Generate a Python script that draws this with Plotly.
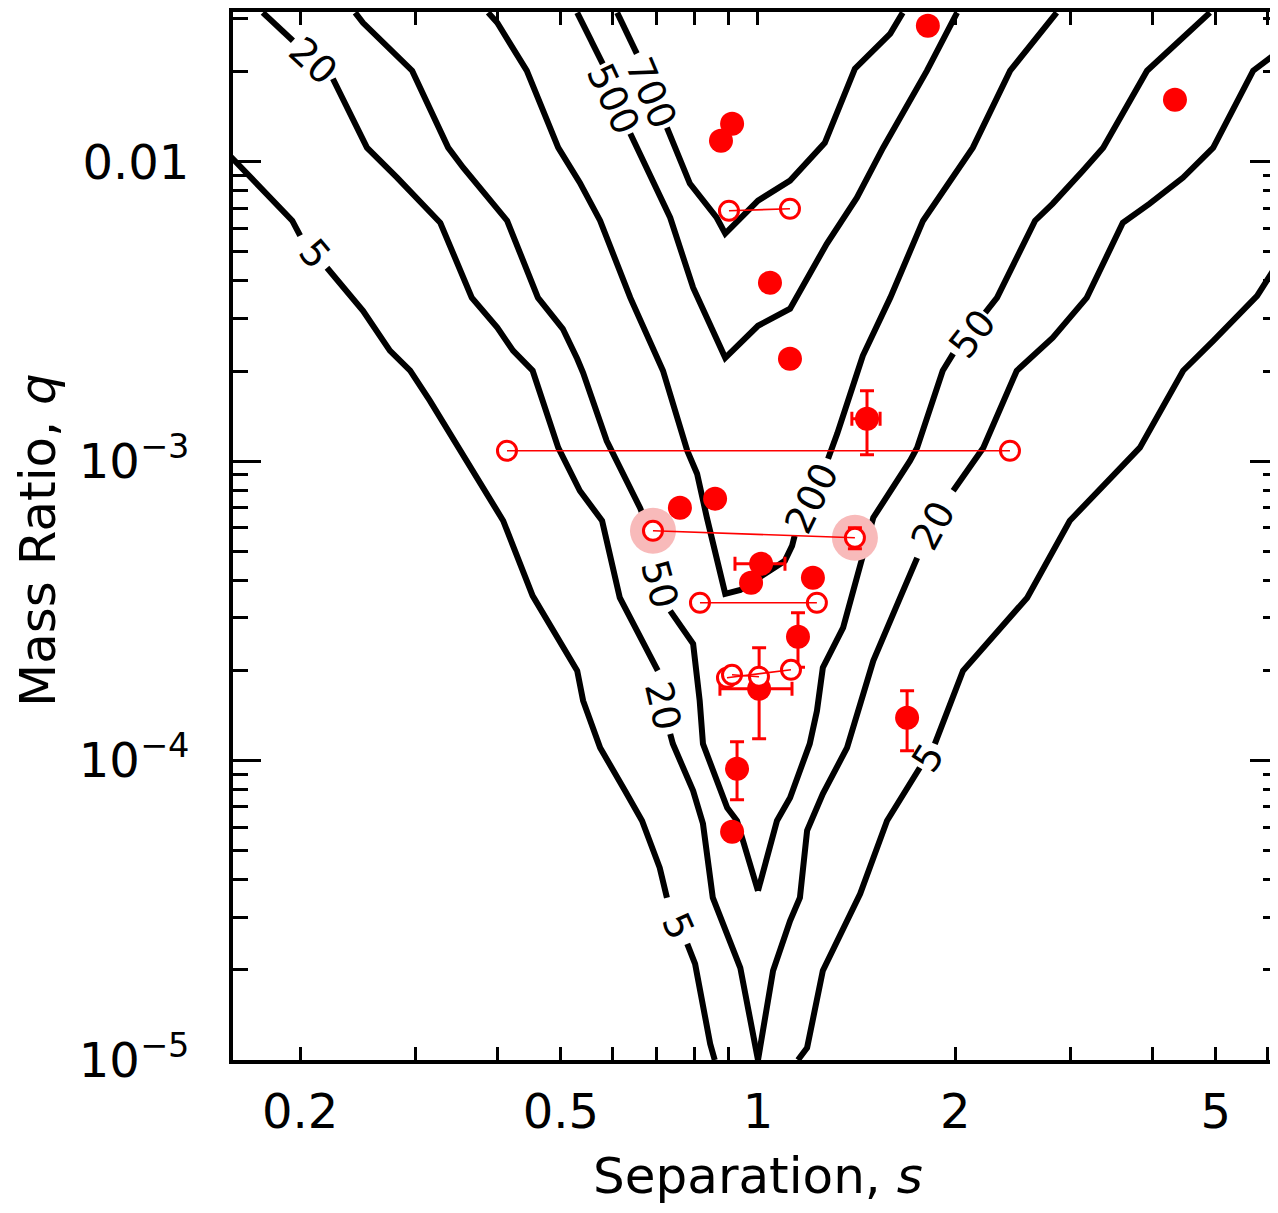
import plotly.graph_objects as go

# ---------------- contour lines (log10 s, log10 q), split where labels sit ----------------
C5_LOGS = [[-0.805, -0.756, -0.711, -0.699],
           [-0.658, -0.603, -0.562, -0.531, -0.501, -0.455, -0.389, -0.344, -0.276, -0.267, -0.241, -0.203, -0.177, -0.150, -0.139],
           [-0.108, -0.096, -0.073, -0.066],
           [0.061, 0.075, 0.099, 0.156, 0.197, 0.247],
           [0.270, 0.313, 0.411, 0.476, 0.583, 0.649, 0.695, 0.762, 0.805]]
C5_LOGQ = [[-1.983, -2.097, -2.197, -2.247],
           [-2.354, -2.498, -2.631, -2.698, -2.798, -2.965, -3.199, -3.450, -3.700, -3.800, -3.957, -4.101, -4.201, -4.358, -4.458],
           [-4.612, -4.679, -4.946, -5.0],
           [-5.0, -4.959, -4.702, -4.445, -4.201, -4.024],
           [-3.944, -3.700, -3.456, -3.199, -2.955, -2.698, -2.598, -2.448, -2.300]]

C20_LOGS = [[-0.756, -0.710],
            [-0.649, -0.597, -0.551, -0.485, -0.437, -0.398, -0.374, -0.344, -0.305, -0.272, -0.238, -0.211, -0.153],
            [-0.134, -0.130, -0.099, -0.084, -0.069, -0.027, 0.0],
            [0.0, 0.023, 0.049, 0.064, 0.075, 0.099, 0.136, 0.156, 0.176, 0.217, 0.243],
            [0.298, 0.344, 0.395, 0.450, 0.502, 0.557, 0.598, 0.649, 0.695, 0.756, 0.805]]
C20_LOGQ = [[-1.502, -1.596],
            [-1.723, -1.953, -2.053, -2.204, -2.454, -2.554, -2.631, -2.698, -2.955, -3.099, -3.199, -3.456, -3.700],
            [-3.911, -3.944, -4.101, -4.211, -4.458, -4.692, -5.0],
            [-5.0, -4.702, -4.535, -4.458, -4.234, -4.111, -3.957, -3.810, -3.667, -3.456, -3.323],
            [-3.099, -2.955, -2.698, -2.588, -2.454, -2.204, -2.140, -2.053, -1.953, -1.696, -1.615]]

C50_LOGS = [[-0.615, -0.603, -0.528, -0.473, -0.450, -0.383, -0.336, -0.298, -0.276, -0.267, -0.231, -0.180, -0.165],
            [-0.134, -0.099, -0.089, -0.084, -0.047, -0.032, 0.0],
            [0.0, 0.029, 0.049, 0.079, 0.090, 0.099, 0.130, 0.145, 0.156, 0.176, 0.232, 0.243, 0.282, 0.298],
            [0.347, 0.365, 0.423, 0.450, 0.496, 0.527, 0.594, 0.649, 0.690]]
C50_LOGQ = [[-1.502, -1.536, -1.696, -1.953, -2.020, -2.197, -2.454, -2.558, -2.658, -2.705, -2.932, -3.156, -3.240],
            [-3.500, -3.610, -3.800, -3.944, -4.158, -4.201, -4.435],
            [-4.435, -4.201, -4.124, -3.944, -3.834, -3.690, -3.556, -3.433, -3.343, -3.189, -2.999, -2.955, -2.698, -2.641],
            [-2.504, -2.454, -2.197, -2.140, -2.030, -1.953, -1.696, -1.586, -1.502]]

C200_LOGS = [[-0.412, -0.398, -0.353, -0.305, -0.272, -0.241, -0.195, -0.153, -0.145, -0.108, -0.093, -0.078, -0.050,
              -0.027, 0.041, 0.052, 0.056],
             [0.107, 0.121, 0.151, 0.160, 0.202, 0.252, 0.328, 0.385, 0.456]]
C200_LOGQ = [[-1.502, -1.536, -1.696, -1.953, -2.070, -2.197, -2.454, -2.665, -2.698, -2.965, -3.042, -3.189, -3.443,
              -3.430, -3.333, -3.283, -3.249],
             [-2.992, -2.908, -2.708, -2.648, -2.454, -2.197, -1.953, -1.696, -1.502]]

C500_LOGS = [[-0.276, -0.237],
             [-0.195, -0.134, -0.099, -0.050, 0.0, 0.049, 0.105, 0.151, 0.191, 0.258, 0.304]]
C500_LOGQ = [[-1.502, -1.673],
             [-1.906, -2.187, -2.421, -2.655, -2.548, -2.491, -2.274, -2.120, -1.953, -1.696, -1.502]]

C700_LOGS = [[-0.215, -0.185],
             [-0.139, -0.104, -0.063, -0.050, 0.0, 0.049, 0.102, 0.148, 0.202, 0.221]]
C700_LOGQ = [[-1.502, -1.639],
             [-1.886, -2.073, -2.187, -2.240, -2.130, -2.063, -1.937, -1.689, -1.572, -1.502]]

# contour labels: text, log10 s, log10 q, angle
LABEL_TEXT = ["20", "5", "20", "5", "5", "20", "50", "50", "200", "500", "700"]
LABEL_LOGS = [-0.679, -0.676, -0.145, -0.122, 0.2595, 0.267, -0.150, 0.327, 0.082, -0.221, -0.163]
LABEL_LOGQ = [-1.663, -2.307, -3.817, -4.552, -3.991, -3.216, -3.409, -2.574, -3.122, -1.790, -1.770]
LABEL_ANGLE = [43, 50, 77, 66, -58, -62, 75, -52, -64, 65, 67]

# ---------------- planet detections ----------------
F_S = [1.817, 4.331, 0.913, 0.878, 1.043, 1.119, 1.467, 0.760, 0.860, 1.011, 0.976, 1.213, 1.151, 1.004, 0.929, 0.913, 1.689]
F_Q = [0.02846, 0.01611, 0.01339, 0.01175, 0.003944, 0.002198, 0.001385, 0.000699, 0.000749, 0.0004544,
       0.0003925, 0.0004079, 0.000259, 0.0001737, 0.0000939, 0.0000578, 0.000139]
F_Q_HI = [None, None, None, None, None, None, 0.001718, None, None, None, None, None, 0.0003116, 0.000238, 0.0001156, None, 0.000171]
F_Q_LO = [None, None, None, None, None, None, 0.00105, None, None, None, None, None, 0.0002048, 0.0001182, 0.000074, None, 0.0001078]
F_S_HI = [None, None, None, None, None, None, 1.536, None, None, 1.0995, None, None, None, 1.127, None, None, None]
F_S_LO = [None, None, None, None, None, None, 1.391, None, None, 0.9223, None, None, None, 0.8748, None, None, None]

# degenerate solutions (open circles joined by a line)
P_S1 = [0.903, 0.4138, 0.6913, 0.8155, 0.8967, 0.9127]
P_Q1 = [0.006859, 0.001083, 0.0005853, 0.0003365, 0.0001891, 0.0001934]
P_S2 = [1.119, 2.425, 1.406, 1.230, 1.123, 1.0035]
P_Q2 = [0.006966, 0.001083, 0.0005549, 0.0003365, 0.0002010, 0.0001905]
P2_Q_HI = [None, None, 0.0005991, None, None, None]
P2_Q_LO = [None, None, 0.00051, None, None, None]
HALO_PAIR = 2

X_TITLE = "Separation, <i>s</i>"
Y_TITLE = "Mass Ratio, <i>q</i>"

RED = "#ff0000"
FONT = "DejaVu Sans"


def plus(vals, his):
    return [None if h is None else h - v for v, h in zip(vals, his)]


def minus(vals, los):
    return [None if lo is None else v - lo for v, lo in zip(vals, los)]


fig = go.Figure()

for segs_s, segs_q in [(C5_LOGS, C5_LOGQ), (C20_LOGS, C20_LOGQ), (C50_LOGS, C50_LOGQ),
                       (C200_LOGS, C200_LOGQ), (C500_LOGS, C500_LOGQ), (C700_LOGS, C700_LOGQ)]:
    xs, ys = [], []
    for ls, lq in zip(segs_s, segs_q):
        xs += [10 ** v for v in ls] + [None]
        ys += [10 ** v for v in lq] + [None]
    fig.add_trace(go.Scatter(x=xs, y=ys, mode="lines", line=dict(color="black", width=6),
                             hoverinfo="skip", showlegend=False))

# halo around one degenerate pair
fig.add_trace(go.Scatter(x=[P_S1[HALO_PAIR], P_S2[HALO_PAIR]], y=[P_Q1[HALO_PAIR], P_Q2[HALO_PAIR]],
                         mode="markers", marker=dict(symbol="circle", size=46, color="#f8baba"),
                         showlegend=False, hoverinfo="skip"))

# filled detections with error bars
fig.add_trace(go.Scatter(
    x=F_S, y=F_Q, mode="markers",
    marker=dict(symbol="circle", size=24, color=RED),
    error_y=dict(type="data", symmetric=False, array=plus(F_Q, F_Q_HI), arrayminus=minus(F_Q, F_Q_LO),
                 color=RED, thickness=3, width=7),
    error_x=dict(type="data", symmetric=False, array=plus(F_S, F_S_HI), arrayminus=minus(F_S, F_S_LO),
                 color=RED, thickness=3, width=7),
    showlegend=False))

# open circles
fig.add_trace(go.Scatter(x=P_S1, y=P_Q1, mode="markers",
                         marker=dict(symbol="circle", size=19, color="white", line=dict(color=RED, width=3)),
                         showlegend=False))
fig.add_trace(go.Scatter(x=P_S2, y=P_Q2, mode="markers",
                         marker=dict(symbol="circle", size=19, color="white", line=dict(color=RED, width=3)),
                         error_y=dict(type="data", symmetric=False, array=plus(P_Q2, P2_Q_HI),
                                      arrayminus=minus(P_Q2, P2_Q_LO), color=RED, thickness=3, width=7),
                         showlegend=False))

# connecting lines
lx, ly = [], []
for a, b, c, d in zip(P_S1, P_Q1, P_S2, P_Q2):
    lx += [a, c, None]
    ly += [b, d, None]
fig.add_trace(go.Scatter(x=lx, y=ly, mode="lines", line=dict(color=RED, width=1.6),
                         showlegend=False, hoverinfo="skip"))

for t, ls, lq, ang in zip(LABEL_TEXT, LABEL_LOGS, LABEL_LOGQ, LABEL_ANGLE):
    fig.add_annotation(x=ls, y=lq, xref="x", yref="y", text=t, showarrow=False, textangle=ang,
                       font=dict(family=FONT, size=38, color="black"))

# axis titles
fig.add_annotation(x=0.5024, y=-0.1405, xref="paper", yref="paper", text=X_TITLE, showarrow=False,
                   xanchor="center", yanchor="bottom", font=dict(family=FONT, size=50, color="black"))
fig.add_annotation(x=-0.1866, y=0.4962, xref="paper", yref="paper", text=Y_TITLE, showarrow=False,
                   textangle=-90, xanchor="center", yanchor="middle", font=dict(family=FONT, size=50, color="black"))

# long tick at s = 1 (bottom and top)
for y0, y1 in [(0, 27 / 1048), (1, 1 - 27 / 1048)]:
    fig.add_shape(type="line", xref="x", yref="paper", x0=0, x1=0, y0=y0, y1=y1,
                  line=dict(color="black", width=3))

X_TICKS = [0.2, 0.5, 1, 2, 5]
X_TICKTEXT = ["0.2", "0.5", "1", "2", "5"]
X_MINOR = [0.3, 0.4, 0.6, 0.7, 0.8, 0.9, 3, 4, 6]
Y_TICKS = [1e-5, 1e-4, 1e-3, 1e-2]
Y_TICKTEXT = ["10<sup>\u22125</sup>", "10<sup>\u22124</sup>", "10<sup>\u22123</sup>", "0.01"]
Y_MINOR = [m * 10 ** e for e in (-5, -4, -3, -2) for m in range(2, 10) if m * 10 ** e < 0.032]

fig.update_xaxes(type="log", range=[-0.8015, 0.7939], tickvals=X_TICKS, ticktext=X_TICKTEXT,
                 ticks="inside", ticklen=13, tickwidth=3, tickcolor="black",
                 minor=dict(tickvals=X_MINOR, ticks="inside", ticklen=13, tickwidth=3, tickcolor="black", showgrid=False),
                 showline=True, linewidth=4, linecolor="black", mirror="ticks", automargin=False,
                 showgrid=False, zeroline=False, ticklabelstandoff=6,
                 tickfont=dict(family=FONT, size=48, color="black"))
fig.update_yaxes(type="log", range=[-5, -1.5], tickvals=Y_TICKS, ticktext=Y_TICKTEXT,
                 ticks="inside", ticklen=28, tickwidth=3, tickcolor="black",
                 minor=dict(tickvals=Y_MINOR, ticks="inside", ticklen=15, tickwidth=3, tickcolor="black", showgrid=False),
                 showline=True, linewidth=4, linecolor="black", mirror="ticks", automargin=False,
                 showgrid=False, zeroline=False, ticklabelstandoff=30,
                 tickfont=dict(family=FONT, size=48, color="black"))

fig.update_layout(width=1270, height=1197, margin=dict(l=225, r=0, t=4, b=145),
                  plot_bgcolor="white", paper_bgcolor="white", showlegend=False)

fig.write_html("out.html")
